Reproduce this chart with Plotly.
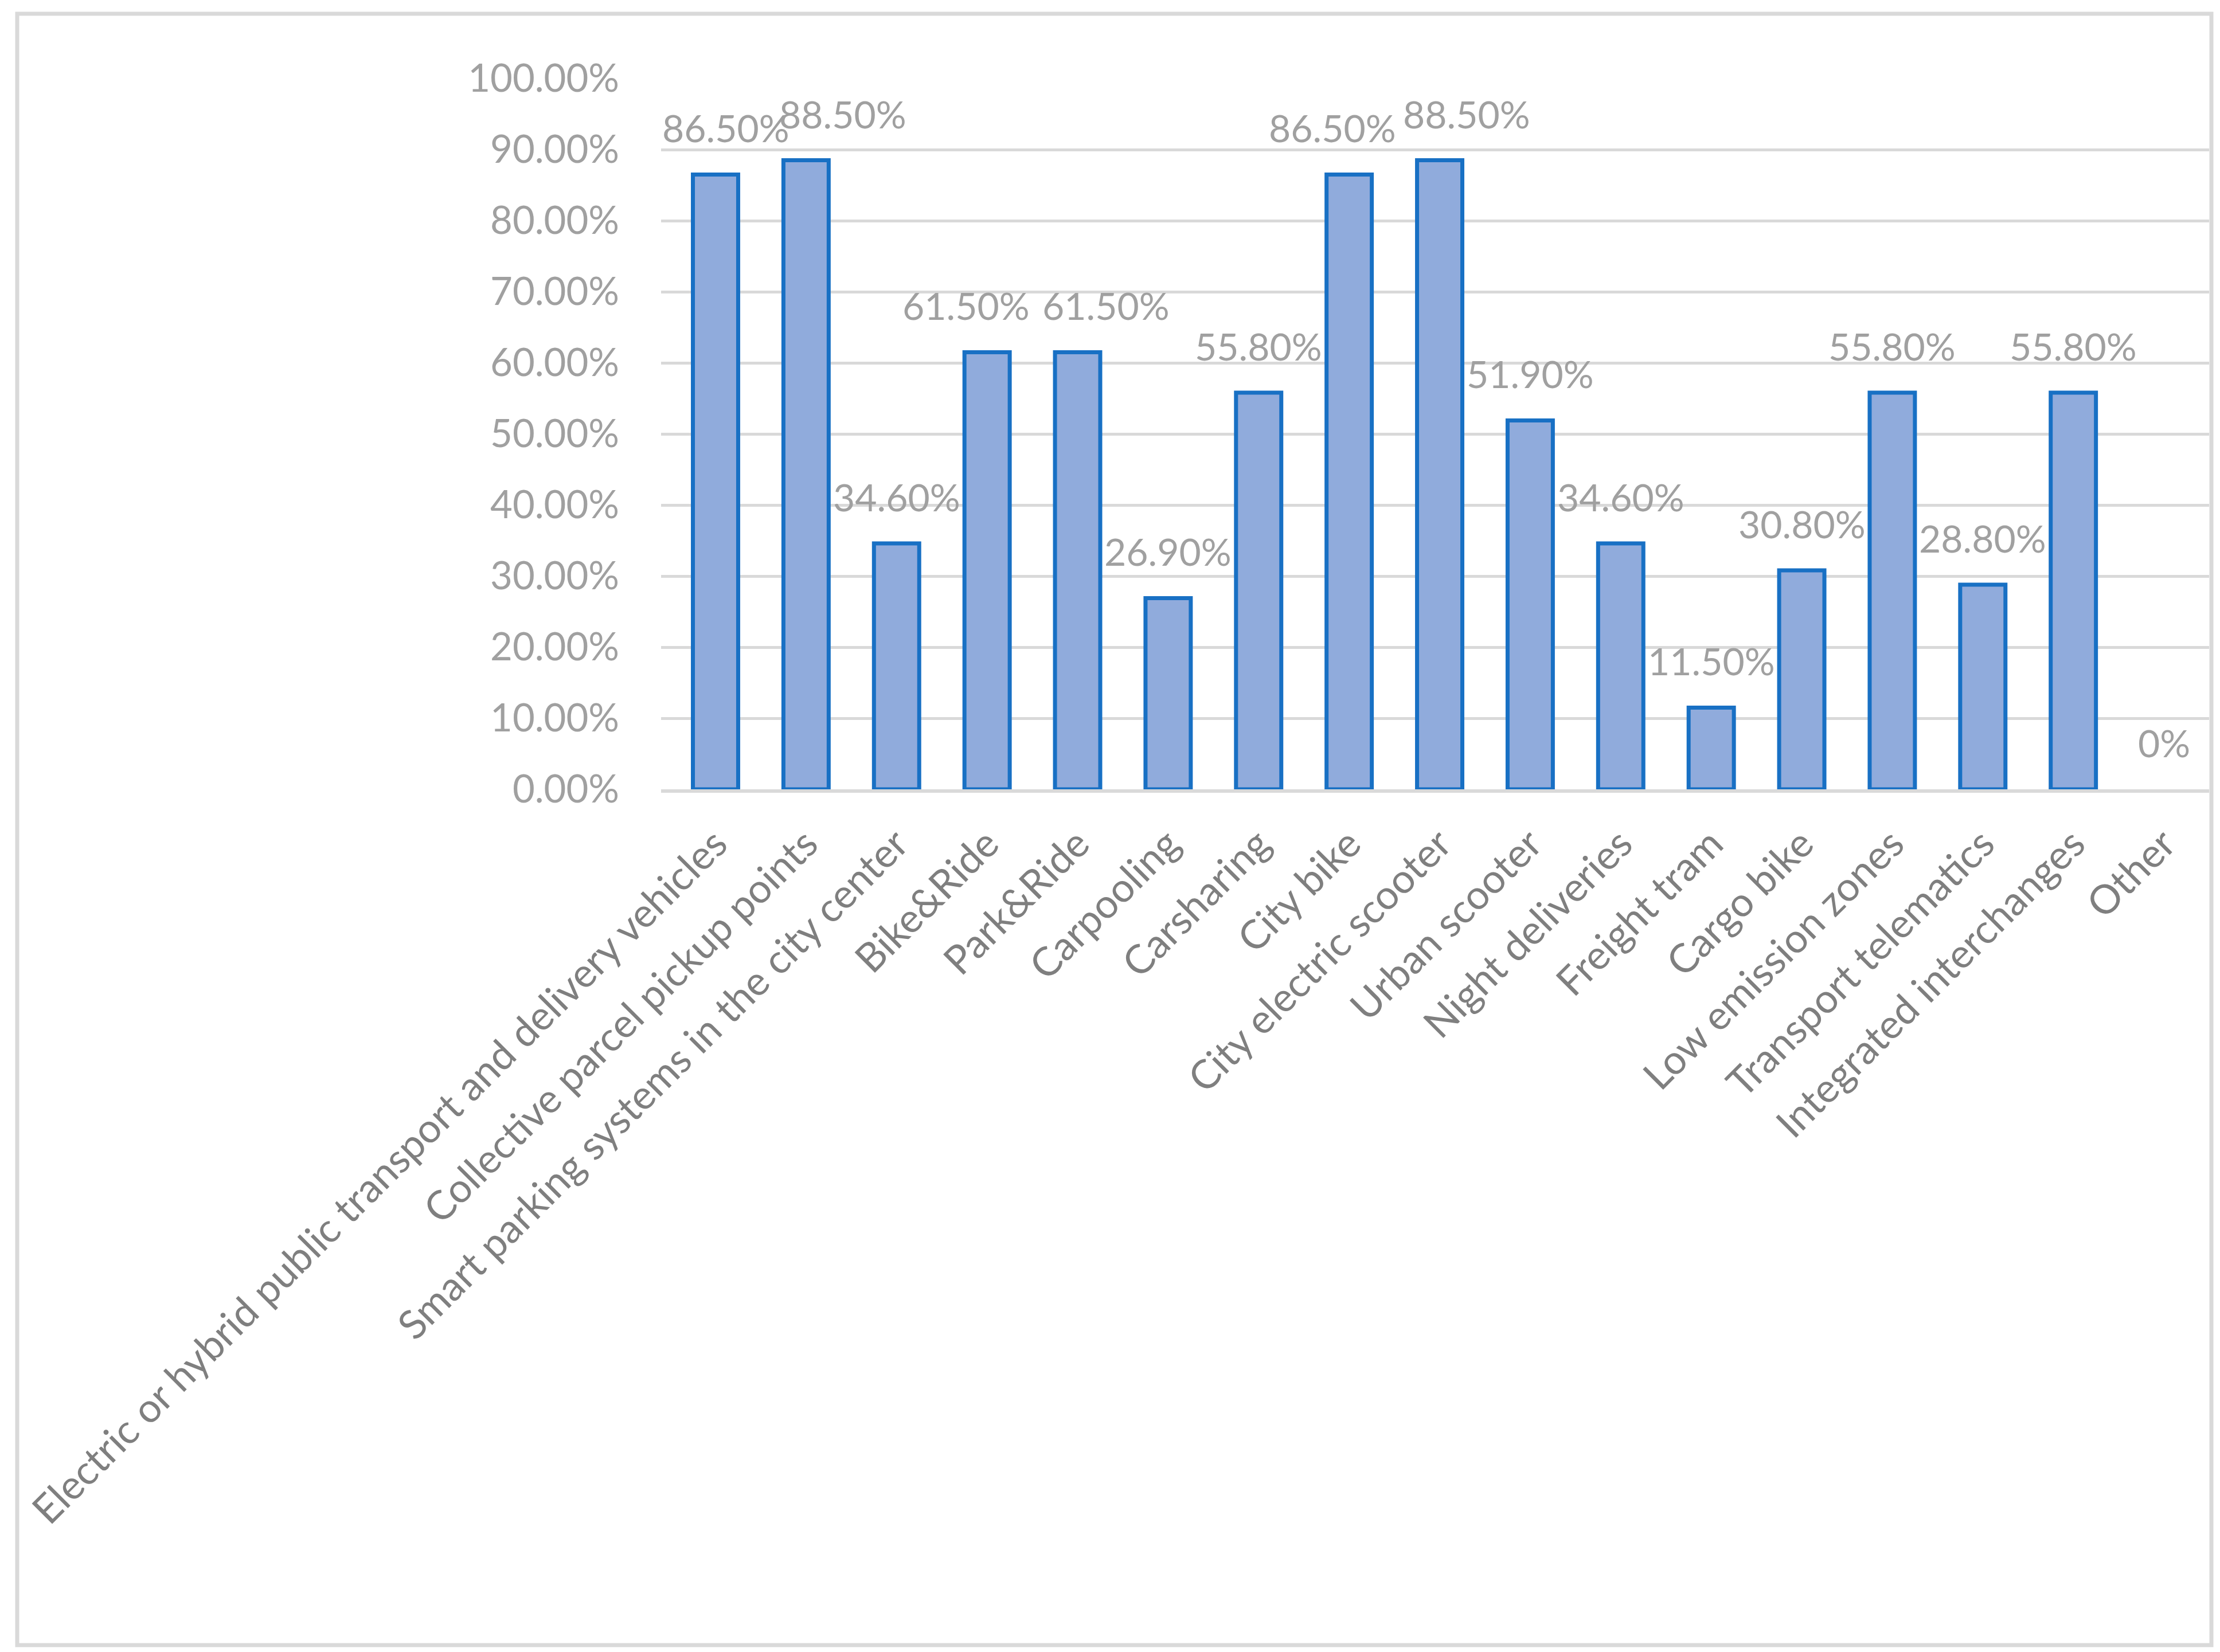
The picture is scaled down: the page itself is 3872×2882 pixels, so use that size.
import plotly.graph_objects as go

categories = [
    "Electric or hybrid public transport and delivery vehicles",
    "Collective parcel pickup points",
    "Smart parking systems in the city center",
    "Bike&Ride",
    "Park&Ride",
    "Carpooling",
    "Carsharing",
    "City bike",
    "City electric scooter",
    "Urban scooter",
    "Night deliveries",
    "Freight tram",
    "Cargo bike",
    "Low emission zones",
    "Transport telematics",
    "Integrated interchanges",
    "Other",
]
values = [0.865, 0.885, 0.346, 0.615, 0.615, 0.269, 0.558, 0.865, 0.885,
          0.519, 0.346, 0.115, 0.308, 0.558, 0.288, 0.558, 0.0]
labels = ["86.50%", "88.50%", "34.60%", "61.50%", "61.50%", "26.90%", "55.80%",
          "86.50%", "88.50%", "51.90%", "34.60%", "11.50%", "30.80%", "55.80%",
          "28.80%", "55.80%", "0%"]
ytick_vals = [0.0, 0.1, 0.2, 0.3, 0.4, 0.5, 0.6, 0.7, 0.8, 0.9, 1.0]

# horizontal nudges (px) of data labels that the original chart moved apart
label_nudge = [18, 64, 0, -37, 49, 0, 0, -29, 47, 0, 0, 0, 0, 0, 0, 0, 0]

W, H = 3872, 2882
L, R, T, B = 1145, 27, 129, 1513
FONT = "Lato"

# zero-height bars get no outline (as in the original)
outline_w = [7 if v > 0 else 0 for v in values]

fig = go.Figure(go.Bar(
    x=categories, y=values,
    marker=dict(color="#90ABDC", line=dict(color="#1870C4", width=outline_w)),
    hoverinfo="x+y",
))

for cat, val, lab, dx in zip(categories, values, labels, label_nudge):
    fig.add_annotation(
        x=cat, y=val, text=lab, showarrow=False,
        xanchor="center", yanchor="bottom", xshift=dx, yshift=40,
        font=dict(family=FONT, size=66, color="#A0A0A0"),
    )

pw = W - L - R
ph = H - T - B
def px_x(p):
    return (p - L) / pw
def px_y(p):
    return (H - B - p) / ph

fig.update_layout(
    width=W, height=H,
    margin=dict(l=L, r=R, t=T, b=B, autoexpand=False),
    paper_bgcolor="white", plot_bgcolor="white",
    bargap=0.5, showlegend=False,
    font=dict(family=FONT),
    xaxis=dict(
        tickangle=-45, tickfont=dict(family=FONT, size=70, color="#7F7F7F"),
        showline=True, linecolor="#D9D9D9", linewidth=6,
        showgrid=False, ticks="", automargin=False,
        ticklabelstandoff=20,
    ),
    yaxis=dict(
        range=[0, 1.0], tickvals=ytick_vals, tickformat=".2%",
        tickfont=dict(family=FONT, size=67, color="#A0A0A0"),
        showgrid=True, gridcolor="#D9D9D9", gridwidth=5,
        zeroline=False, showline=False, ticks="",
        ticklabelstandoff=72, automargin=False,
    ),
    shapes=[dict(
        type="rect", xref="paper", yref="paper",
        x0=px_x(22), x1=px_x(3849), y0=px_y(2862), y1=px_y(16),
        line=dict(color="#D9D9D9", width=7), fillcolor="rgba(0,0,0,0)",
        layer="below",
    )],
)

fig.write_html("out.html")
